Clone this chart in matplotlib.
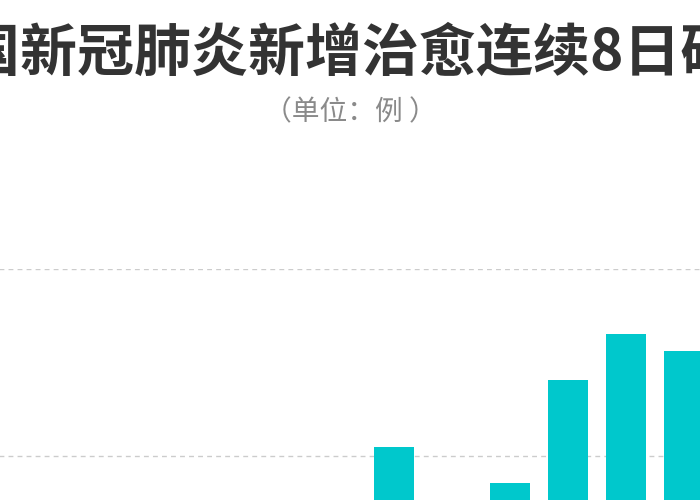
import matplotlib
matplotlib.use('Agg')
import matplotlib.pyplot as plt

plt.rcParams['font.family'] = ['Noto Sans CJK SC', 'DejaVu Sans']

title = '全国新冠肺炎新增治愈连续8日破千'
subtitle = '（单位：例 ）'

# new recoveries per day; the picture shows only the top of the chart
days = ['2月9日', '2月10日', '2月11日', '2月12日', '2月13日', '2月14日',
        '2月15日', '2月16日', '2月17日', '2月18日', '2月19日']
cured = [632, 716, 744, 1171, 1081, 1524, 1323, 1426, 1703, 1825, 1780]
grid_values = [0, 500, 1000, 1500, 2000]

W, H = 700, 500
fig = plt.figure(figsize=(7, 5), dpi=100)

# axes placed so that the visible crop matches (pixels from the top-left)
px_per_bar = 58.0
last_bar_px = 684.0
x_lo, x_hi = -7.5, len(days) - 1 + 0.8
left_px = last_bar_px - (len(days) - 1 - x_lo) * px_per_bar
right_px = last_bar_px + (x_hi - (len(days) - 1)) * px_per_bar
y_top_px, y_zero_px = 269.0, 1016.0
ax = fig.add_axes([left_px / W, (H - y_zero_px) / H,
                   (right_px - left_px) / W, (y_zero_px - y_top_px) / H])

ax.bar(range(len(days)), cured, width=0.69, color='#00c8cc', zorder=2)
ax.set_xlim(x_lo, x_hi)
ax.set_ylim(0, 2000)
ax.set_yticks(grid_values)
ax.set_xticks(range(len(days)))
ax.set_xticklabels(days)
ax.tick_params(length=0, labelleft=False, labelbottom=False)
ax.grid(axis='y', color='#cccccc', linewidth=1.0, dashes=(3.5, 3), zorder=0)
ax.set_axisbelow(True)
for s in ax.spines.values():
    s.set_visible(False)

fig.text(0.5, 1 - 54 / H, title, ha='center', va='center', fontsize=41,
         fontweight='bold', color='#333333')
fig.text(0.5, 1 - 112 / H, subtitle, ha='center', va='center', fontsize=20,
         color='#8a8a8a')

fig.savefig('out.png', dpi=100)
